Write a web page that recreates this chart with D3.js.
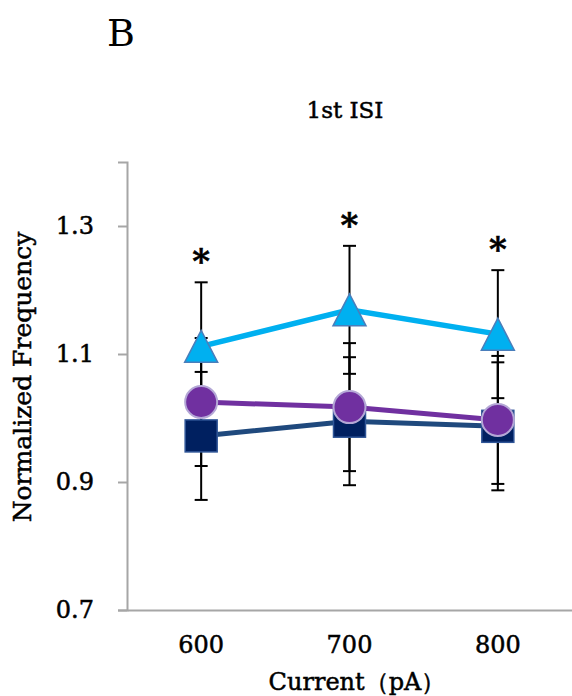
<!DOCTYPE html>
<html>
<head>
<meta charset="utf-8">
<script src="https://cdn.jsdelivr.net/npm/d3@7"></script>
<style>
body { margin: 0; background: #fff; }
text { font-family: "DejaVu Serif", serif; fill: #000; }
.heavy { stroke: #000; stroke-width: 0.5px; }
</style>
</head>
<body>
<div id="chart"></div>
<script>
// values
var currents = ["600", "700", "800"];
var squareVals = [0.972, 0.995, 0.987];
var squareErr = [0.1, 0.1, 0.1];
var circleVals = [1.025, 1.017, 0.997];
var circleErr = [0.1, 0.1, 0.1];
var triangleVals = [1.112, 1.169, 1.131];
var triangleErr = [0.1, 0.1, 0.1];
var yTicks = [0.7, 0.9, 1.1, 1.3];
var stars = ["*", "*", "*"];

var w = 572, h = 696;
var svg = d3.select("#chart").append("svg").attr("width", w).attr("height", h);

var xScale = d3.scaleBand().domain(currents).range([127, 572]);
var yScale = d3.scaleLinear().domain([0.7, 1.4]).range([610, 162]);
var cx = function(d, i) { return xScale(currents[i]) + xScale.bandwidth() / 2; };

// axes
var yAxis = d3.axisLeft(yScale).tickValues(yTicks).tickFormat(d3.format(".1f")).tickSize(9).tickPadding(24);
var gy = svg.append("g").attr("transform", "translate(127,0)").call(yAxis);
gy.select(".domain").attr("stroke", "#a6a6a6").attr("stroke-width", 2);
gy.selectAll(".tick line").attr("stroke", "#a6a6a6").attr("stroke-width", 2);
gy.selectAll(".tick text").attr("class", "heavy").style("font-size", "24px").attr("font-family", null);

var xAxis = d3.axisBottom(xScale).tickSize(0).tickPadding(26);
var gx = svg.append("g").attr("transform", "translate(0,610)").call(xAxis);
gx.select(".domain").attr("stroke", "#a6a6a6").attr("stroke-width", 2);
gx.selectAll(".tick text").attr("class", "heavy").style("font-size", "24px").attr("font-family", null);

// labels
svg.append("text").attr("x", 107).attr("y", 46).style("font-size", "38px").text("B");
svg.append("text").attr("class", "heavy").attr("x", 345).attr("y", 118).attr("text-anchor", "middle").style("font-size", "23px").text("1st ISI");
svg.append("text").attr("class", "heavy").attr("x", 357).attr("y", 690).attr("text-anchor", "middle").style("font-size", "24px").text("Current（pA）");
svg.append("text").attr("class", "heavy").attr("transform", "translate(31,377) rotate(-90)").attr("text-anchor", "middle").style("font-size", "25px").text("Normalized Frequency");

var series = [
  { vals: squareVals, err: squareErr, line: "#1f497d", fill: "#002060", stroke: "#2f5597", shape: "square", lw: 5 },
  { vals: circleVals, err: circleErr, line: "#7030a0", fill: "#7030a0", stroke: "#b4a7d6", shape: "circle", lw: 5 },
  { vals: triangleVals, err: triangleErr, line: "#00b0f0", fill: "#00b0f0", stroke: "#4a7ebb", shape: "triangle", lw: 5.5 }
];

// error bars
series.forEach(function(s) {
  var g = svg.append("g").attr("stroke", "#000").attr("stroke-width", 2);
  s.vals.forEach(function(v, i) {
    var x = cx(v, i);
    g.append("line").attr("x1", x).attr("x2", x).attr("y1", yScale(v - s.err[i])).attr("y2", yScale(v + s.err[i]));
    [v - s.err[i], v + s.err[i]].forEach(function(e) {
      g.append("line").attr("x1", x - 6.5).attr("x2", x + 6.5).attr("y1", yScale(e)).attr("y2", yScale(e));
    });
  });
});

// lines and markers
var line = d3.line().x(cx).y(function(d) { return yScale(d); });
series.forEach(function(s) {
  svg.append("path").datum(s.vals).attr("d", line).attr("fill", "none").attr("stroke", s.line).attr("stroke-width", s.lw);
  var g = svg.append("g");
  s.vals.forEach(function(v, i) {
    var x = cx(v, i), y = yScale(v);
    if (s.shape === "square") {
      g.append("rect").attr("x", x - 16).attr("y", y - 16).attr("width", 32).attr("height", 32)
        .attr("fill", s.fill).attr("stroke", s.stroke).attr("stroke-width", 1.5);
    } else if (s.shape === "circle") {
      g.append("circle").attr("cx", x).attr("cy", y).attr("r", 16)
        .attr("fill", s.fill).attr("stroke", s.stroke).attr("stroke-width", 2);
    } else {
      g.append("path").attr("d", "M" + x + "," + (y - 16) + "L" + (x + 16.5) + "," + (y + 16) + "L" + (x - 16.5) + "," + (y + 16) + "Z")
        .attr("fill", s.fill).attr("stroke", s.stroke).attr("stroke-width", 1.5);
    }
  });
});

// significance marks above the triangle error bars
svg.selectAll(".star").data(stars).enter().append("text")
  .attr("class", "star heavy")
  .attr("x", function(d, i) { return cx(d, i); })
  .attr("y", function(d, i) { return yScale(triangleVals[i] + triangleErr[i]) - 9; })
  .attr("text-anchor", "middle")
  .style("font-size", "34px").style("font-weight", "bold")
  .text(function(d) { return d; });
</script>
</body>
</html>
